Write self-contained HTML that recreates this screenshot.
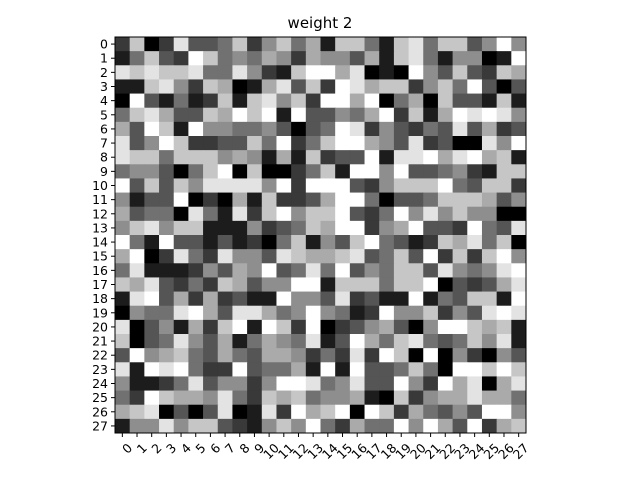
<!DOCTYPE html>
<html><head><meta charset="utf-8"><style>
body{margin:0;background:#fff;}
svg{display:block;font-family:"DejaVu Sans","Liberation Sans",sans-serif;}
</style></head><body>
<svg id="chart" width="640" height="480">
<rect width="640" height="480" fill="#fff"/>
<text x="320" y="28" text-anchor="middle" font-size="15">weight 2</text>
<g id="cells"></g>
<g id="axes"></g>
</svg>
<script>
const rowLabels=[...Array(28).keys()].map(String);
const colLabels=[...Array(28).keys()].map(String);
const leftHalf=[
[2,7,0,2,8,3,3,4,7,2,5,7,4,6],[1,4,7,3,2,9,7,4,5,4,6,5,2,6],[8,7,8,7,7,8,4,4,8,5,2,1,7,9],
[1,1,7,8,5,2,7,6,0,1,6,8,3,7],[0,9,3,1,4,1,2,7,1,7,8,5,7,2],[4,7,8,6,3,3,7,6,9,7,9,1,9,3],
[6,3,9,7,1,9,5,5,4,4,5,3,0,3],[8,3,5,9,7,2,2,3,3,7,4,9,2,4],[8,7,7,4,7,7,7,5,6,5,1,6,1,7],
[4,5,5,3,0,4,7,9,0,7,0,0,2,4],[9,3,7,3,7,5,8,8,8,8,5,9,2,9],[5,1,3,3,9,0,2,0,6,1,7,2,2,3],
[6,3,4,4,0,8,4,1,8,2,7,9,5,7],[5,7,8,5,7,7,1,1,1,5,2,3,4,7],[9,4,1,9,3,3,1,3,1,2,0,4,7,1],
[6,9,0,2,8,4,2,8,5,5,3,8,7,6],[4,8,1,1,1,2,5,3,6,5,9,3,4,8],[7,6,8,3,2,4,2,7,6,3,5,5,9,9],
[1,8,9,3,6,2,6,2,3,1,1,9,5,5],[0,5,4,4,8,9,6,3,8,8,6,4,5,9],[8,0,3,5,1,6,2,7,9,1,9,7,2,9],
[7,0,3,4,8,5,3,6,1,4,6,5,4,8],[3,9,5,6,7,4,3,6,4,3,6,6,5,2],[8,1,9,8,9,4,2,2,9,3,4,4,6,1],
[5,1,1,2,4,8,3,5,5,2,5,9,9,8],[4,2,9,7,6,6,5,8,4,2,7,6,7,4],[6,7,8,0,3,0,3,8,0,1,8,2,9,6],
[1,5,5,8,5,7,7,3,2,1,5,7,5,9]];
const rightHalf=[
[1,7,7,4,1,7,8,4,7,7,3,5,9,5],[5,5,3,6,1,7,8,4,1,5,5,0,1,9],[9,6,8,0,1,0,9,5,3,7,3,2,7,6],
[2,9,8,6,7,7,2,5,7,4,9,3,0,3],[9,9,6,9,0,4,6,0,7,3,3,1,7,1],[3,5,4,6,9,2,7,1,6,9,8,9,8,5],
[4,9,8,2,5,3,2,4,3,8,3,6,2,3],[7,9,9,6,5,3,8,2,3,0,0,8,5,9],[2,3,3,9,1,8,8,9,6,8,9,6,7,1],
[7,1,9,9,5,9,3,3,4,5,2,1,7,7],[9,9,3,2,5,7,7,7,9,4,3,7,7,2],[6,9,9,4,0,3,3,4,7,7,7,6,3,5],
[7,9,3,2,4,9,5,8,5,7,5,5,0,0],[6,9,9,2,5,6,9,3,3,2,9,4,3,8],[5,3,7,9,4,3,1,2,7,6,8,4,7,0],
[6,7,8,3,4,7,3,9,2,7,2,7,9,5],[4,9,3,5,4,7,7,3,8,5,4,5,8,9],[1,7,7,7,4,7,7,9,0,3,2,3,6,8],
[3,8,2,3,1,1,9,1,4,3,7,7,1,9],[5,4,1,2,9,5,5,7,2,5,3,8,9,8],[0,2,3,5,6,3,0,5,9,9,7,6,7,1],
[1,3,9,6,4,7,8,4,3,4,7,5,8,1],[4,2,8,2,9,7,0,9,0,5,2,0,5,3],[9,1,9,3,3,4,7,4,0,9,9,7,9,7],
[4,5,8,3,3,9,5,2,9,6,8,0,6,8],[5,5,6,1,0,7,2,5,6,6,8,6,6,4],[7,9,0,9,7,2,6,4,3,5,3,9,9,5],
[4,2,6,4,4,9,5,9,6,3,9,2,6,7]];
const values=leftHalf.map((r,i)=>r.concat(rightHalf[i]));
const X0=115,X1=526,Y0=37,Y1=433;
const nC=colLabels.length,nR=rowLabels.length;
const cw=(X1-X0)/nC,ch=(Y1-Y0)/nR;
const xPos=c=>X0+c*cw, yPos=r=>Y0+r*ch;
const vmin=0,vmax=9;
const gray=v=>{const g=Math.round((v-vmin)/(vmax-vmin)*255);return `rgb(${g},${g},${g})`;};
const NS="http://www.w3.org/2000/svg";
const cells=document.getElementById('cells'),axes=document.getElementById('axes');
values.forEach((row,r)=>row.forEach((v,c)=>{
  const e=document.createElementNS(NS,'rect');
  e.setAttribute('x',xPos(c));e.setAttribute('y',yPos(r));
  e.setAttribute('width',cw+0.5);e.setAttribute('height',ch+0.5);
  e.setAttribute('fill',gray(v));
  
  
  cells.appendChild(e);
}));
const frame=document.createElementNS(NS,'rect');
frame.setAttribute('x',X0);frame.setAttribute('y',Y0);frame.setAttribute('width',X1-X0);frame.setAttribute('height',Y1-Y0);
frame.setAttribute('fill','none');frame.setAttribute('stroke','#000');frame.setAttribute('stroke-width','1');


axes.appendChild(frame);
rowLabels.forEach((l,r)=>{
  const y=yPos(r)+ch/2;
  const t=document.createElementNS(NS,'line');
  t.setAttribute('x1',X0-4);t.setAttribute('x2',X0);t.setAttribute('y1',y);t.setAttribute('y2',y);t.setAttribute('stroke','#000');
  
  
  axes.appendChild(t);
  const tx=document.createElementNS(NS,'text');
  tx.setAttribute('x',X0-7);tx.setAttribute('y',y+4.5);tx.setAttribute('text-anchor','end');tx.setAttribute('font-size','12.5');
  tx.textContent=l;
  
  
  axes.appendChild(tx);
});
colLabels.forEach((l,c)=>{
  const x=xPos(c)+cw/2;
  const t=document.createElementNS(NS,'line');
  t.setAttribute('x1',x);t.setAttribute('x2',x);t.setAttribute('y1',Y1);t.setAttribute('y2',Y1+4);t.setAttribute('stroke','#000');
  
  
  axes.appendChild(t);
  const tx=document.createElementNS(NS,'text');
  const ax=x+4,ay=Y1+9;
  tx.setAttribute('x',ax);tx.setAttribute('y',ay);tx.setAttribute('text-anchor','end');tx.setAttribute('font-size','12.5');
  tx.setAttribute('dominant-baseline','hanging');
  tx.setAttribute('transform',`rotate(-45 ${ax} ${ay})`);
  tx.textContent=l;
  
  
  axes.appendChild(tx);
});
</script>
</body></html>
